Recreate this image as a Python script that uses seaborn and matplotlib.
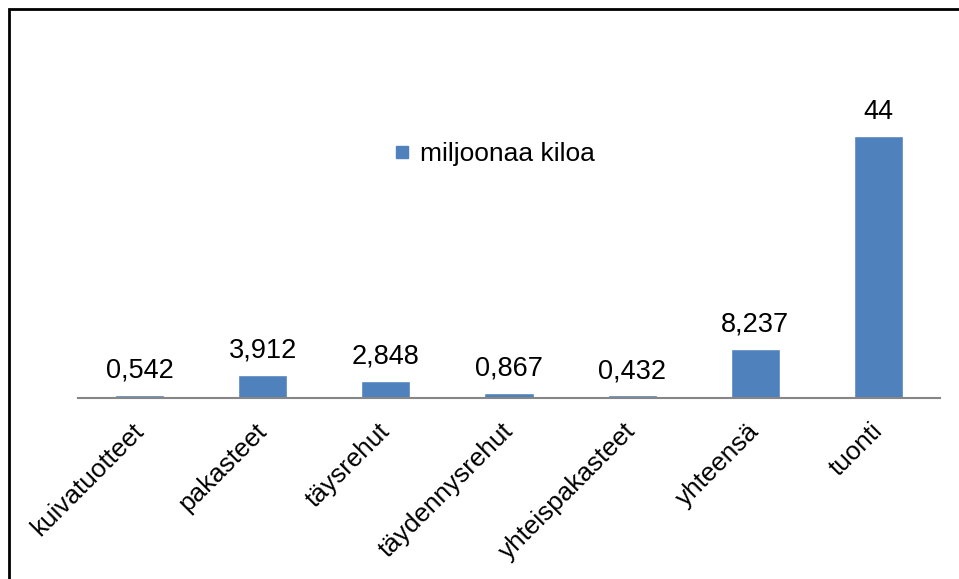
import matplotlib
matplotlib.use("Agg")
import matplotlib.pyplot as plt
import matplotlib.patches as mpatches
from matplotlib.lines import Line2D
import seaborn as sns
import pandas as pd

# --- data ---
categories = ["kuivatuotteet", "pakasteet", "täysrehut", "täydennysrehut",
              "yhteispakasteet", "yhteensä", "tuonti"]
values = [0.542, 3.912, 2.848, 0.867, 0.432, 8.237, 44]
value_labels = ["0,542", "3,912", "2,848", "0,867", "0,432", "8,237", "44"]
series_name = "miljoonaa kiloa"

df = pd.DataFrame({"kategoria": categories, "arvo": values})

sns.set_style("white")
plt.rcParams["font.family"] = ["Liberation Sans", "DejaVu Sans"]
plt.rcParams["text.color"] = "black"
plt.rcParams["xtick.color"] = "black"

bar_color = "#4F81BD"
fs = 19.5

fig = plt.figure(figsize=(9.59, 5.79), dpi=100)
ax = fig.add_axes([0.0813, 0.3126, 0.8989, 0.5143])

sns.barplot(data=df, x="kategoria", y="arvo", color=bar_color, width=0.4,
            saturation=1, ax=ax)

# value labels above bars
ax.bar_label(ax.containers[0], labels=value_labels, padding=8, fontsize=fs,
             color="black")

ax.set_ylim(0, 50)
ax.set_xlim(-0.5, len(categories) - 0.5)
ax.set_xlabel("")
ax.set_ylabel("")
ax.set_yticks([])
for s in ["top", "right", "left"]:
    ax.spines[s].set_visible(False)
ax.spines["bottom"].set_color("#868686")
ax.spines["bottom"].set_linewidth(1.5)
ax.tick_params(axis="x", length=0, pad=21)
plt.setp(ax.get_xticklabels(), rotation=45, ha="right", va="center",
         rotation_mode="anchor", fontsize=18.8, color="black")

# legend in the middle of the plot, square marker like the original
handle = Line2D([], [], marker="s", linestyle="", color=bar_color, markersize=8.8)
ax.legend([handle], [series_name], loc="center", bbox_to_anchor=(0.484, 0.82),
          frameon=False, fontsize=19, handlelength=0.5, handletextpad=0.45,
          borderpad=0)

# outer frame (only top and left edges show in the reference)
frame = mpatches.Rectangle((8.5 / 959, -0.05), 1.0, 1 - 9 / 579 + 0.05,
                           transform=fig.transFigure, fill=False,
                           edgecolor="black", linewidth=2, clip_on=False)
fig.patches.append(frame)

fig.savefig("out.png", dpi=100)
